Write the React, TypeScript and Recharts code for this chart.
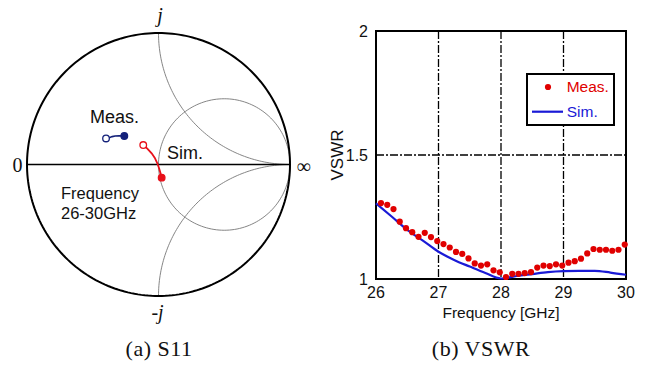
import {
  ScatterChart,
  Scatter,
  ComposedChart,
  Line,
  XAxis,
  YAxis,
  CartesianGrid,
  ReferenceArea,
  Legend,
} from "recharts";

const SERIF = '"Liberation Serif", "Times New Roman", serif';
const SANS = '"Liberation Sans", Arial, sans-serif';

const RED = "#e00000";
const BLUE = "#1a1ad6";
const NAVY = "#14217a";
const SMITH_RED = "#e8101a";

// ---- (a) S11 on the Smith chart: reflection coefficient, 26 -> 30 GHz
const measRe = [-0.399, -0.375, -0.352, -0.33, -0.3, -0.26];
const measIm = [0.198, 0.203, 0.212, 0.217, 0.219, 0.217];
const simRe = [-0.116, -0.085, -0.052, -0.028, -0.009, 0.005, 0.015, 0.024];
const simIm = [0.148, 0.121, 0.085, 0.05, 0.009, -0.03, -0.065, -0.1];

// ---- (b) VSWR
const xTicks = [26, 27, 28, 29, 30];
const yTicks = [1, 1.5, 2];

const measFreq = [
  26.08, 26.18, 26.28, 26.38, 26.48, 26.58, 26.68, 26.78, 26.88, 26.98,
  27.08, 27.18, 27.28, 27.38, 27.48, 27.58, 27.68, 27.78, 27.88, 27.98,
  28.08, 28.18, 28.28, 28.38, 28.48, 28.58, 28.68, 28.78, 28.88, 28.98,
  29.08, 29.18, 29.28, 29.38, 29.48, 29.58, 29.68, 29.78, 29.88, 29.98,
];
const measVswr = [
  1.306, 1.299, 1.282, 1.231, 1.205, 1.189, 1.17, 1.186, 1.169, 1.153,
  1.141, 1.127, 1.109, 1.101, 1.083, 1.063, 1.054, 1.059, 1.035, 1.027,
  1.008, 1.021, 1.021, 1.024, 1.028, 1.046, 1.054, 1.052, 1.059, 1.054,
  1.066, 1.072, 1.082, 1.103, 1.121, 1.118, 1.118, 1.114, 1.118, 1.139,
];

const simFreq = [
  26, 26.25, 26.5, 26.75, 27, 27.25, 27.5, 27.75, 28, 28.25, 28.5, 28.75,
  29, 29.25, 29.5, 29.75, 30,
];
const simVswr = [
  1.305, 1.252, 1.198, 1.155, 1.11, 1.077, 1.05, 1.024, 1.002, 1.012, 1.02,
  1.028, 1.032, 1.033, 1.033, 1.026, 1.017,
];

const measData = measFreq.map((f, i) => ({ f, v: measVswr[i] }));
const simData = simFreq.map((f, i) => ({ f, v: simVswr[i] }));

// Smith chart grid arcs (unit circle, r = 1 circle, x = +1 / -1 arcs)
function arc(cx: number, cy: number, r: number, a0: number, a1: number, n = 120) {
  return Array.from({ length: n + 1 }, (_, i) => {
    const t = a0 + ((a1 - a0) * i) / n;
    return { x: cx + r * Math.cos(t), y: cy + r * Math.sin(t) };
  });
}
const PI = Math.PI;
const outerCircle = arc(0, 0, 1, 0, 2 * PI, 240);
const rOneCircle = arc(0.5, 0, 0.5, 0, 2 * PI, 160);
const xPlusArc = arc(1, 1, 1, PI, 1.5 * PI, 80);
const xMinusArc = arc(1, -1, 1, 0.5 * PI, PI, 80);
const realAxis = [
  { x: -1, y: 0 },
  { x: 1, y: 0 },
];

const measTrace = measRe.map((x, i) => ({ x, y: measIm[i] }));
const simTrace = simRe.map((x, i) => ({ x, y: simIm[i] }));
const ends = (tr: { x: number; y: number }[]) => [
  { ...tr[0], open: true },
  { ...tr[tr.length - 1], open: false },
];

const noShape = () => <g />;
const endShape = (color: string) => (p: any) => {
  const open = p.payload ? p.payload.open : p.open;
  return (
    <circle
      cx={p.cx}
      cy={p.cy}
      r={3.3}
      fill={open ? "#fff" : color}
      stroke={color}
      strokeWidth={1.3}
    />
  );
};

function Txt({
  x,
  y,
  children,
  style,
}: {
  x: number;
  y: number;
  children: any;
  style?: any;
}) {
  return (
    <div
      style={{
        position: "absolute",
        left: x,
        top: y,
        transform: "translate(-50%, -50%)",
        lineHeight: 1,
        whiteSpace: "nowrap",
        color: "#111",
        ...style,
      }}
    >
      {children}
    </div>
  );
}

function VswrLegend() {
  return (
    <div
      style={{
        width: 89,
        height: 53,
        border: "2px solid #000",
        boxSizing: "border-box",
        background: "#fff",
        position: "relative",
        fontFamily: SANS,
        fontSize: 15.5,
        lineHeight: 1,
      }}
    >
      <svg width={85} height={49} style={{ position: "absolute", left: 0, top: 0 }}>
        <circle cx={20} cy={12} r={3.1} fill={RED} />
        <line x1={4} x2={35} y1={36.7} y2={36.7} stroke={BLUE} strokeWidth={2.2} />
      </svg>
      <span style={{ position: "absolute", left: 38.7, top: 4.3, color: RED }}>Meas.</span>
      <span style={{ position: "absolute", left: 38.7, top: 29, color: BLUE }}>Sim.</span>
    </div>
  );
}

export default function App() {
  const tickStyle = { fontSize: 16, fill: "#111", fontFamily: SANS };
  return (
    <div
      style={{
        position: "absolute",
        left: 0,
        top: 0,
        width: 648,
        height: 367,
        background: "#fff",
        overflow: "hidden",
      }}
    >
      {/* (a) Smith chart */}
      <div style={{ position: "absolute", left: 17, top: 23 }}>
        <ScatterChart width={283} height={283} margin={{ top: 10, right: 10, bottom: 10, left: 10 }}>
          <XAxis type="number" dataKey="x" domain={[-1, 1]} hide />
          <YAxis type="number" dataKey="y" domain={[-1, 1]} hide />
          <Scatter data={rOneCircle} line={{ stroke: "#777", strokeWidth: 0.9 }} lineType="joint" shape={noShape} isAnimationActive={false} />
          <Scatter data={xPlusArc} line={{ stroke: "#777", strokeWidth: 0.9 }} lineType="joint" shape={noShape} isAnimationActive={false} />
          <Scatter data={xMinusArc} line={{ stroke: "#777", strokeWidth: 0.9 }} lineType="joint" shape={noShape} isAnimationActive={false} />
          <Scatter data={realAxis} line={{ stroke: "#000", strokeWidth: 1.3 }} lineType="joint" shape={noShape} isAnimationActive={false} />
          <Scatter data={outerCircle} line={{ stroke: "#000", strokeWidth: 2 }} lineType="joint" shape={noShape} isAnimationActive={false} />
          <Scatter data={measTrace} line={{ stroke: NAVY, strokeWidth: 1.6 }} lineType="joint" shape={noShape} isAnimationActive={false} />
          <Scatter data={simTrace} line={{ stroke: SMITH_RED, strokeWidth: 1.8 }} lineType="joint" shape={noShape} isAnimationActive={false} />
          <Scatter data={ends(measTrace)} shape={endShape(NAVY)} isAnimationActive={false} />
          <Scatter data={ends(simTrace)} shape={endShape(SMITH_RED)} isAnimationActive={false} />
        </ScatterChart>
      </div>
      <Txt x={160} y={15} style={{ fontFamily: SERIF, fontSize: 20, fontStyle: "italic" }}>j</Txt>
      <Txt x={157.5} y={311.5} style={{ fontFamily: SERIF, fontSize: 20, fontStyle: "italic" }}>-j</Txt>
      <Txt x={17.5} y={165} style={{ fontFamily: SERIF, fontSize: 20 }}>0</Txt>
      <Txt x={303.7} y={166} style={{ fontFamily: SERIF, fontSize: 20 }}>∞</Txt>
      <Txt x={114.5} y={116.5} style={{ fontFamily: SANS, fontSize: 18 }}>Meas.</Txt>
      <div style={{ position: "absolute", left: 167, top: 144, fontFamily: SANS, fontSize: 18, lineHeight: 1, color: "#111" }}>Sim.</div>
      <div style={{ position: "absolute", left: 61, top: 184, fontFamily: SANS, fontSize: 16.5, lineHeight: "19.5px", color: "#111" }}>
        Frequency
        <br />
        26-30GHz
      </div>

      {/* (b) VSWR */}
      <div style={{ position: "absolute", left: 318, top: 0 }}>
        <ComposedChart width={330} height={330} margin={{ top: 31, right: 22, bottom: 6, left: 0 }}>
          <CartesianGrid stroke="#000" strokeWidth={1.3} strokeDasharray="8 2 2 2" />
          <XAxis
            type="number"
            dataKey="f"
            domain={[26, 30]}
            ticks={xTicks}
            height={45}
            tickLine={false}
            axisLine={false}
            tickSize={6}
            tickMargin={2}
            tick={tickStyle}
            label={{ value: "Frequency [GHz]", position: "insideBottom", offset: 6.5, style: { fontSize: 15.5, fill: "#111", fontFamily: SANS } }}
          />
          <YAxis
            type="number"
            dataKey="v"
            domain={[1, 2]}
            ticks={yTicks}
            width={58}
            tickLine={false}
            axisLine={false}
            tickSize={6}
            tickMargin={2}
            tick={tickStyle}
            label={{ value: "VSWR", angle: -90, position: "insideLeft", offset: 19, style: { fontSize: 17, fill: "#111", fontFamily: SANS, textAnchor: "middle" } }}
          />
          <ReferenceArea x1={26} x2={30} y1={1} y2={2} fill="none" fillOpacity={0} stroke="#000" strokeWidth={2} />
          <Line data={simData} dataKey="v" type="monotone" stroke={BLUE} strokeWidth={2.2} dot={false} isAnimationActive={false} />
          <Scatter
            data={measData}
            dataKey="v"
            fill={RED}
            shape={(p: any) => <circle cx={p.cx} cy={p.cy} r={3.1} fill={RED} />}
            isAnimationActive={false}
          />
          <Legend
            layout="horizontal"
            verticalAlign="middle"
            align="center"
            content={() => <VswrLegend />}
            wrapperStyle={{ left: 208, top: 73, width: 89, height: 53 }}
          />
        </ComposedChart>
      </div>

      <div style={{ position: "absolute", left: 159, top: 337.6, transform: "translateX(-50%)", fontFamily: SERIF, fontSize: 22, letterSpacing: 0.5, lineHeight: 1, color: "#111", whiteSpace: "nowrap" }}>
        (a) S11
      </div>
      <div style={{ position: "absolute", left: 481, top: 337.6, transform: "translateX(-50%)", fontFamily: SERIF, fontSize: 22, letterSpacing: 0.5, lineHeight: 1, color: "#111", whiteSpace: "nowrap" }}>
        (b) VSWR
      </div>
    </div>
  );
}
